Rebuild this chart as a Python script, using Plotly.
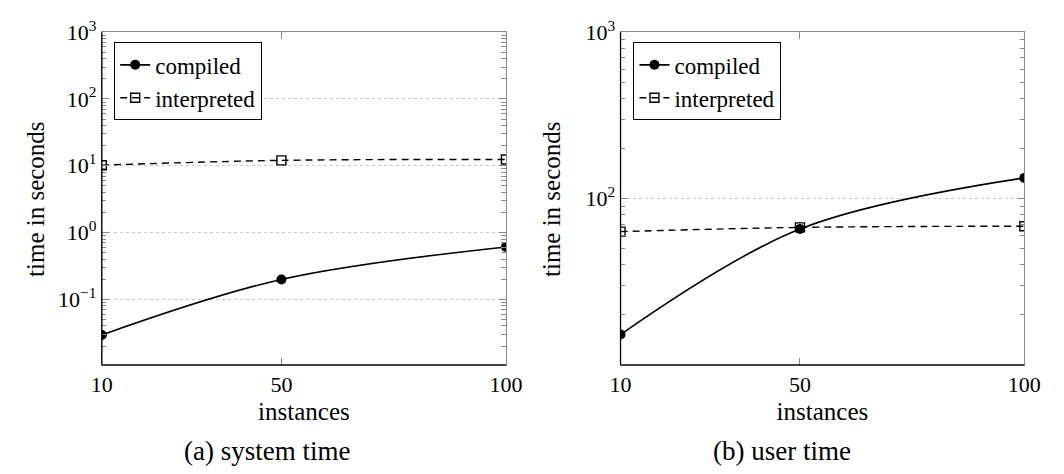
import plotly.graph_objects as go

# ---- data ----
instances = [10, 50, 100]
sys_compiled = [0.0294, 0.199, 0.61]
sys_interpreted = [10.2, 12.05, 12.4]
user_compiled = [15.2, 65.5, 133]
user_interpreted = [63.2, 67.0, 68.1]

x_ticks = [10, 50, 100]
sys_yticks = [0.1, 1, 10, 100, 1000]
sys_ytext = ["10<sup>−1</sup>", "10<sup>0</sup>", "10<sup>1</sup>", "10<sup>2</sup>", "10<sup>3</sup>"]
user_yticks = [100, 1000]
user_ytext = ["10<sup>2</sup>", "10<sup>3</sup>"]

W, H = 1064, 474
SERIF = "Liberation Serif, Times New Roman, serif"
GRAY = "#8a8a8a"


def minor_vals(e0, e1):
    return [m * 10 ** e for e in range(e0, e1) for m in range(2, 10)]


fig = go.Figure()

series = [
    ("x", "y", "legend", sys_compiled, sys_interpreted),
    ("x2", "y2", "legend2", user_compiled, user_interpreted),
]
for xa, ya, lg, comp, interp in series:
    fig.add_trace(go.Scatter(
        x=instances, y=comp, name="compiled", xaxis=xa, yaxis=ya, legend=lg,
        mode="lines+markers", line=dict(color="black", width=1.6, shape="spline"),
        marker=dict(symbol="circle", size=10, color="black"),
    ))
    fig.add_trace(go.Scatter(
        x=instances, y=interp, name="interpreted", xaxis=xa, yaxis=ya, legend=lg,
        mode="lines+markers", line=dict(color="black", width=1.4, dash="7px,5px", shape="spline"),
        marker=dict(symbol="square-open", size=9, color="black", line=dict(width=1.4, color="black")),
    ))

xcommon = dict(
    range=[10, 100], tickmode="array", tickvals=x_ticks, ticks="inside", ticklen=7,
    tickcolor=GRAY, tickwidth=1, showline=True, linecolor=GRAY, linewidth=1,
    mirror="allticks", showgrid=False, zeroline=False,
    tickfont=dict(family=SERIF, size=22, color="black"),
    title=dict(text="instances", font=dict(family=SERIF, size=25, color="black"), standoff=6),
)
ycommon = dict(
    type="log", tickmode="array", ticks="inside", ticklen=7, tickcolor=GRAY, tickwidth=1,
    showline=True, linecolor=GRAY, linewidth=1, mirror="allticks",
    showgrid=True, gridcolor="#c9c9c9", gridwidth=1, griddash="dot", zeroline=False,
    tickfont=dict(family=SERIF, size=22, color="black"),
)

ybot = (H - 361) / H
ytop = (H - 16.7) / H
legfont = dict(family=SERIF, size=23, color="black")

fig.update_layout(
    width=W, height=H, margin=dict(l=0, r=0, t=0, b=0),
    paper_bgcolor="white", plot_bgcolor="white",
    font=dict(family=SERIF, color="black"),
    xaxis=dict(domain=[93.3 / W, 508.3 / W], anchor="y", **xcommon),
    xaxis2=dict(domain=[626 / W, 1040.7 / W], anchor="y2", **xcommon),
    yaxis=dict(domain=[ybot, ytop], anchor="x", range=[-1.979, 3],
               tickvals=sys_yticks, ticktext=sys_ytext,
               minor=dict(tickmode="array", tickvals=minor_vals(-2, 3), ticks="inside",
                          ticklen=4.5, tickcolor=GRAY, showgrid=False),
               **ycommon),
    yaxis2=dict(domain=[ybot, ytop], anchor="x2", range=[1.0, 3],
                tickvals=user_yticks, ticktext=user_ytext,
                minor=dict(tickmode="array", tickvals=minor_vals(1, 3), ticks="inside",
                           ticklen=4.5, tickcolor=GRAY, showgrid=False),
                **ycommon),
    legend=dict(x=106 / W, y=(H - 27.3) / H, xanchor="left", yanchor="top",
                bordercolor="black", borderwidth=1, bgcolor="white",
                font=legfont, tracegroupgap=0),
    legend2=dict(x=639.3 / W, y=(H - 27.3) / H, xanchor="left", yanchor="top",
                 bordercolor="black", borderwidth=1, bgcolor="white",
                 font=legfont, tracegroupgap=0),
    showlegend=True,
)

# black left and bottom axis lines (top/right stay gray)
for xr, yr in [("x domain", "y domain"), ("x2 domain", "y2 domain")]:
    fig.add_shape(type="line", xref=xr, yref=yr, x0=0, x1=0, y0=0, y1=1,
                  line=dict(color="black", width=1.3))
    fig.add_shape(type="line", xref=xr, yref=yr, x0=0, x1=1, y0=0, y1=0,
                  line=dict(color="black", width=1.3))

# y-axis titles
for xc in [25, 555]:
    fig.add_annotation(x=xc / W, y=(H - 189) / H, xref="paper", yref="paper",
                       text="time in seconds", showarrow=False, textangle=-90,
                       xanchor="center", yanchor="middle",
                       font=dict(family=SERIF, size=25, color="black"))

# sub-captions
for xc, txt in [(263, "(a) system time"), (792, "(b) user time")]:
    fig.add_annotation(x=xc / W, y=(H - 450) / H, xref="paper", yref="paper",
                       text=txt, showarrow=False, xanchor="center", yanchor="middle",
                       font=dict(family=SERIF, size=27, color="black"))

fig.write_html("out.html", config={"displayModeBar": False},
               post_script="document.body.style.margin='0';")
